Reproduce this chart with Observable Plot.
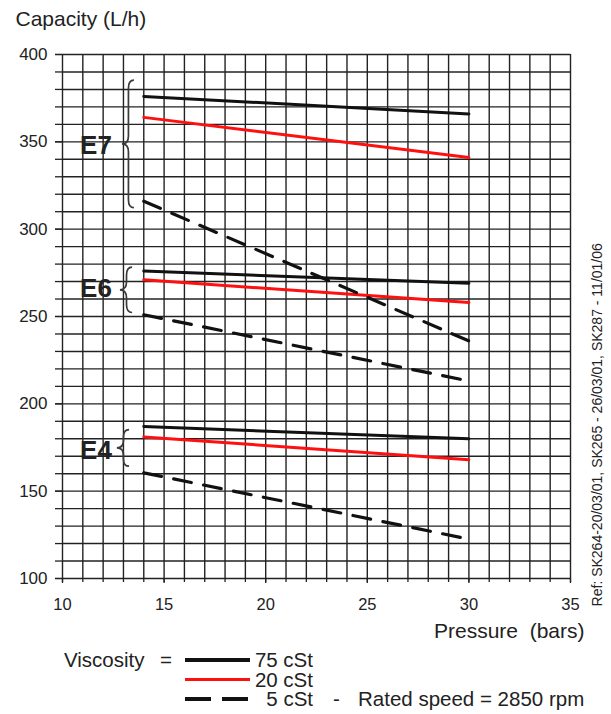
<!DOCTYPE html>
<html><head><meta charset="utf-8">
<script src="https://cdn.jsdelivr.net/npm/d3@7"></script>
<script src="https://cdn.jsdelivr.net/npm/@observablehq/plot@0.6"></script>
<style>body{margin:0;background:#fff;} #chart{width:611px;height:714px;}</style>
</head><body><div id="chart"></div>
<script>
// ---- data ----
const pressureStart = [14, 14, 14, 14, 14, 14, 14, 14, 14];
const pressureEnd   = [30, 30, 30, 30, 30, 29.6, 30, 30, 29.6];
const pumpModel     = ["E7","E7","E7","E6","E6","E6","E4","E4","E4"];
const viscosity     = ["75 cSt","20 cSt","5 cSt","75 cSt","20 cSt","5 cSt","75 cSt","20 cSt","5 cSt"];
const capacityStart = [376, 364, 316, 276, 271, 251, 187, 181, 160.5];
const capacityEnd   = [366, 341, 236, 269, 258, 214, 180, 168, 123.5];

const braceLabels = ["E7", "E6", "E4"];
const braceTop    = [385, 278, 185];
const braceBottom = [312, 252, 164];
const braceTip    = [12.95, 12.85, 12.7];
const braceEnd    = [13.54, 13.45, 13.3];
const labelY      = [348, 266, 173];

const xMinorTicks = d3.range(10, 36, 1);
const xMajorTicks = [10, 15, 20, 25, 30, 35];
const yMinorTicks = d3.range(100, 401, 10);
const yMajorTicks = [100, 150, 200, 250, 300, 350, 400];

const legendLabels = ["75 cSt", "20 cSt", "5 cSt"];
const refText = "Ref: SK264-20/03/01, SK265 - 26/03/01, SK287 - 11/01/06";

// ---- build tables ----
const colorOf = {"75 cSt": "#111", "20 cSt": "#ff1010", "5 cSt": "#111"};
const rows = [];
pumpModel.forEach((m, i) => {
  rows.push({series: m + " " + viscosity[i], visc: viscosity[i], p: pressureStart[i], q: capacityStart[i]});
  rows.push({series: m + " " + viscosity[i], visc: viscosity[i], p: pressureEnd[i], q: capacityEnd[i]});
});
const solid = rows.filter(d => d.visc !== "5 cSt");
const dashed = rows.filter(d => d.visc === "5 cSt");
const braces = braceLabels.map((l, i) => ({label: l, top: braceTop[i], bottom: braceBottom[i], tip: braceTip[i], end: braceEnd[i], ly: labelY[i]}));

const FONT = "'Liberation Sans', Arial, Helvetica, sans-serif";

function braceMark(index, scales) {
  const g = d3.create("svg:g").attr("fill", "none").attr("stroke", "#3a3a3a").attr("stroke-width", 1.7);
  for (const b of braces) {
    const xt = scales.x(b.tip), xe = scales.x(b.end), xb = (xt + xe) / 2 + 0.5;
    const y1 = scales.y(b.top), y2 = scales.y(b.bottom), ym = (y1 + y2) / 2;
    const r = Math.min(8, (y2 - y1) / 5);
    const path = `M${xe},${y1} Q${xb},${y1} ${xb},${y1 + r} L${xb},${ym - r} Q${xb},${ym} ${xt},${ym} Q${xb},${ym} ${xb},${ym + r} L${xb},${y2 - r} Q${xb},${y2} ${xe},${y2}`;
    g.append("path").attr("d", path);
  }
  return g.node();
}

function legendMark() {
  const g = d3.create("svg:g").attr("font-family", FONT).attr("font-size", 20.5)
    .attr("fill", "#222").attr("text-anchor", "start");
  g.append("text").attr("x", 64).attr("y", 667).text("Viscosity");
  g.append("text").attr("x", 160).attr("y", 667).text("=");
  legendLabels.forEach((l, i) => {
    const y = 660 + i * 19.5;
    g.append("line").attr("x1", 185).attr("x2", 250).attr("y1", y).attr("y2", y)
      .attr("stroke", colorOf[l]).attr("stroke-width", i === 1 ? 3.2 : 4)
      .attr("stroke-dasharray", l === "5 cSt" ? "26,11" : null);
    g.append("text").attr("x", 313).attr("y", y + 7).attr("text-anchor", "end").text(l);
  });
  g.append("text").attr("x", 333).attr("y", 706).text("-");
  g.append("text").attr("x", 358).attr("y", 706).text("Rated speed = 2850 rpm");
  return g.node();
}

const chart = Plot.plot({
  width: 611,
  height: 714,
  marginLeft: 62,
  marginRight: 41,
  marginTop: 54,
  marginBottom: 136,
  style: {fontFamily: FONT, color: "#222", background: "#fff", overflow: "visible"},
  x: {domain: [10, 35]},
  y: {domain: [100, 400]},
  marks: [
    Plot.gridX(xMinorTicks, {stroke: "#222", strokeOpacity: 1, strokeWidth: 1.4}),
    Plot.gridY(yMinorTicks, {stroke: "#222", strokeOpacity: 1, strokeWidth: 1.4}),
    Plot.axisX(xMinorTicks, {tickSize: 4, tickFormat: () => "", label: null, strokeWidth: 1.3}),
    Plot.axisX(xMajorTicks, {tickSize: 5, tickPadding: 15, fontSize: 16.5, label: null, strokeWidth: 1.3}),
    Plot.axisY(yMinorTicks, {tickSize: 7, tickFormat: () => "", label: null, strokeWidth: 1.3}),
    Plot.axisY(yMajorTicks, {tickSize: 7, tickPadding: 8, fontSize: 17, label: null, strokeWidth: 1.3}),
    Plot.line(solid, {x: "p", y: "q", z: "series", stroke: d => colorOf[d.visc], strokeWidth: 3}),
    Plot.line(dashed, {x: "p", y: "q", z: "series", stroke: "#111", strokeWidth: 3.2, strokeDasharray: "18,12.5"}),
    braceMark,
    Plot.text(braces, {x: 11.65, y: "ly", text: "label", fontSize: 26, fontWeight: "bold", fill: "#222", textAnchor: "middle", lineAnchor: "middle", letterSpacing: "1px"}),
    Plot.text(["Capacity (L/h)"], {frameAnchor: "top-left", dx: -47, dy: -29, lineAnchor: "bottom", textAnchor: "start", fontSize: 21, fill: "#222"}),
    Plot.text(["Pressure  (bars)"], {frameAnchor: "bottom-right", dx: 14, dy: 59, lineAnchor: "bottom", textAnchor: "end", fontSize: 21, fill: "#222"}),
    Plot.text([refText], {x: 35, y: 188, dx: 27, rotate: -90, textAnchor: "middle", lineAnchor: "middle", fontSize: 14, fill: "#222"}),
    legendMark
  ]
});
document.getElementById("chart").appendChild(chart);
</script>
</body></html>
